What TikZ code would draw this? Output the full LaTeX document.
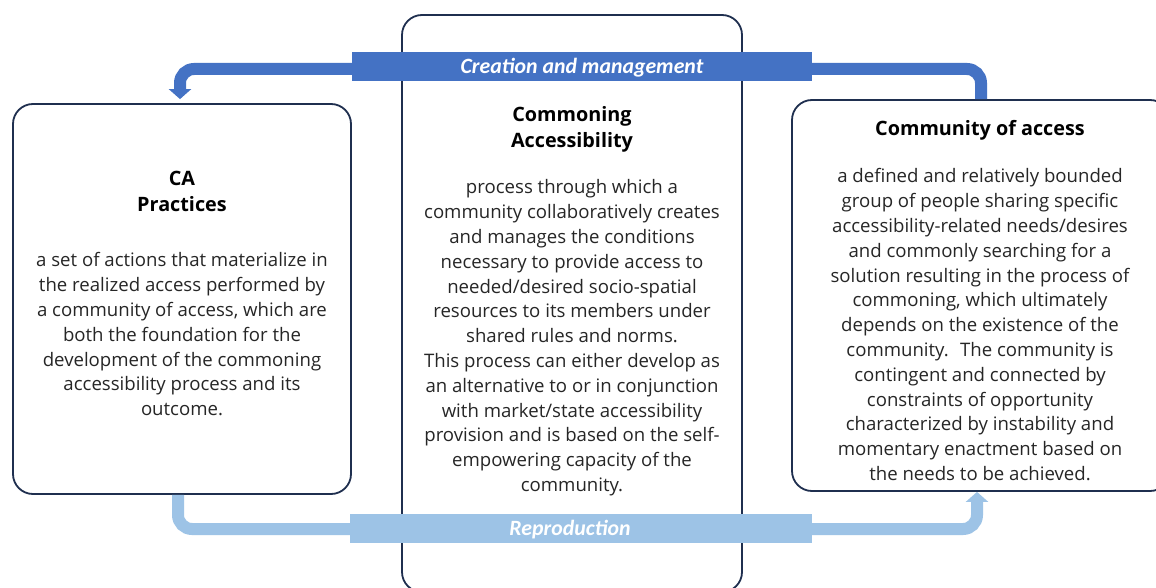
\documentclass[tikz,border=0pt]{standalone}
\usepackage{fontspec}
\setmainfont{Open Sans}
\newfontfamily\labelfont{Carlito}
\usetikzlibrary{arrows.meta}
\definecolor{navy}{HTML}{1F2F4F}
\definecolor{darkarrow}{HTML}{4472C4}
\definecolor{lightarrow}{HTML}{9DC3E6}
\definecolor{bodytext}{HTML}{262626}
\begin{document}
\begin{tikzpicture}[x=1pt,y=-1pt,
  box/.style={draw=navy, line width=1.8pt, rounded corners=20pt, fill=white, inner sep=0pt},
  txt/.style={align=center, font=\fontsize{18.6}{24.8}\selectfont, text=bodytext, inner sep=0pt, anchor=north},
  ttl/.style={align=center, font=\fontsize{19.8}{26}\selectfont\bfseries, text=black, inner sep=0pt, anchor=north},
  band/.style={line width=12pt, rounded corners=14pt},
  lab/.style={minimum height=29pt, inner sep=0pt, text height=14pt, text depth=0pt, font=\labelfont\fontsize{21.8}{21.8}\selectfont\bfseries\itshape, text=white}
]
\useasboundingbox (0,0) rectangle (1156,588);
\clip (0,0) rectangle (1156,588);
\fill[white] (0,0) rectangle (1156,588);

% boxes
\node[box, minimum width=338pt, minimum height=390pt] (ca) at (182,299) {};
\node[box, minimum width=340pt, minimum height=577pt] (cm) at (572,303.5) {};
\node[box, minimum width=378pt, minimum height=391pt] (co) at (981,295.5) {};

% texts
\node[ttl] (catitle) at (182,171) {CA\\Practices};
\node[txt] (cabody) at (182,252.5) {a set of actions that materialize in\\the realized access performed by\\a community of access, which are\\both the foundation for the\\development of the commoning\\accessibility process and its\\outcome.};

\node[ttl] (cmtitle) at (572,106) {Commoning\\Accessibility};
\node[txt] (cmbody) at (572,179.5) {process through which a\\community collaboratively creates\\and manages the conditions\\necessary to provide access to\\needed/desired socio-spatial\\resources to its members under\\shared rules and norms.\\This process can either develop as\\an alternative to or in conjunction\\with market/state accessibility\\provision and is based on the self-\\empowering capacity of the\\community.};

\node[ttl] (cotitle) at (980,120) {Community of access};
\node[txt] (cobody) at (980,168.5) {a defined and relatively bounded\\group of people sharing specific\\accessibility-related needs/desires\\and commonly searching for a\\solution resulting in the process of\\commoning, which ultimately\\depends on the existence of the\\community.~ The community is\\contingent and connected by\\constraints of opportunity\\characterized by instability and\\momentary enactment based on\\the needs to be achieved.};

% coordinates for the bands
\coordinate (topy) at (0,69);
\coordinate (boty) at (0,529);

% top arrow: creation and management
\draw[band, darkarrow, -{Triangle[width=22pt,length=10pt]}]
  (co.north) -- (co.north |- topy) -- ([xshift=-2pt]ca.north |- topy) -- ([xshift=-2pt,yshift=4pt]ca.north);
\node[lab, fill=darkarrow, minimum width=460pt] (cmlab) at (582,66.5) {Creation and management};

% bottom arrow: reproduction
\draw[band, lightarrow, -{Triangle[width=22pt,length=10pt]}]
  ([xshift=-4pt]ca.south) -- ([xshift=-4pt]ca.south |- boty) -- ([xshift=-4pt]co.south |- boty) -- ([xshift=-4pt]co.south);
\node[lab, fill=lightarrow, minimum width=462pt] (replab) at (581,528.5) {\hspace*{-22pt}Reproduction};
\end{tikzpicture}
\end{document}
